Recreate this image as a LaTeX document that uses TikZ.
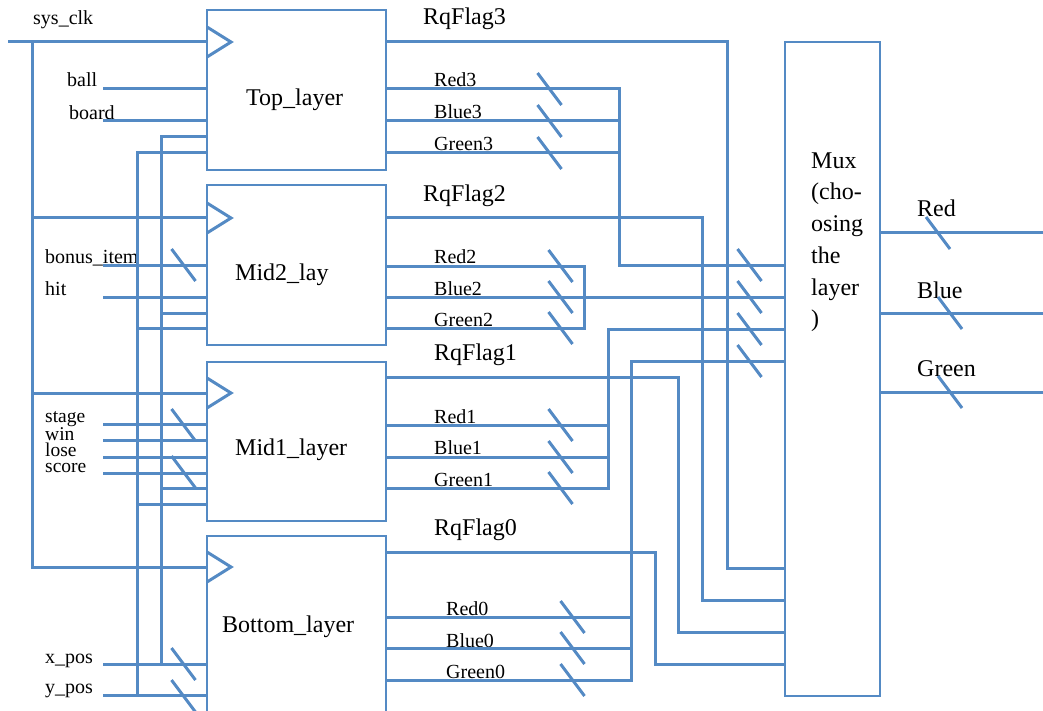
\documentclass[tikz,border=0pt]{standalone}
\usepackage{fontspec}
\setmainfont{Liberation Serif}
\definecolor{wireblue}{RGB}{84,138,196}
\tikzset{
  wire/.style={draw=wireblue, line width=3pt},
  boxframe/.style={draw=wireblue, line width=1.3pt, fill=white, anchor=north west, inner sep=0pt},
  sml/.style={anchor=base west, inner sep=0pt, font=\fontsize{20}{24}\selectfont},
  big/.style={anchor=base west, inner sep=0pt, font=\fontsize{24}{30}\selectfont},
}
\newcommand\busmark[2]{\draw[wire] ({#1-12},{#2-16}) -- ({#1+12},{#2+16});}
\begin{document}
\begin{tikzpicture}[x=1pt,y=-1pt]
\useasboundingbox (0,0) rectangle (1043,711);
% boxes
\node[boxframe, minimum width=178pt, minimum height=159pt] (top) at (207,10) {};
\node[boxframe, minimum width=178pt, minimum height=159pt] (mid2) at (207,185) {};
\node[boxframe, minimum width=178pt, minimum height=158pt] (mid1) at (207,362) {};
\node[boxframe, minimum width=178pt, minimum height=180pt] (bot) at (207,536) {};
\node[boxframe, minimum width=94pt, minimum height=653pt] (mux) at (785,42) {};
% box labels
\node[big] (ltop) at (246,106) {Top\_layer};
\node[big] (lmid2) at (235,280) {Mid2\_lay};
\node[big] (lmid1) at (235,455) {Mid1\_layer};
\node[big] (lbot) at (222,632) {Bottom\_layer};
\node[big] (m1) at (811,169) {Mux};
\node[big] (m2) at (811,200) {(cho-};
\node[big] (m3) at (811,232) {osing};
\node[big] (m4) at (811,263) {the};
\node[big] (m5) at (811,295) {layer};
\node[big] (m6) at (811,326) {)};
% clock triangles
\foreach \yy in {42,218,393,567} {
  \draw[wire] (207,{\yy-15}) -- (231,\yy) -- (207,{\yy+15});
}
% clock distribution
\coordinate (clkin) at (8,42);
\coordinate (clkv) at (32,42);
\draw[wire] (clkin) -- (207,42);
\draw[wire] (clkv) -- (32,567) -- (207,567);
\draw[wire] (32,218) -- (207,218);
\draw[wire] (32,393) -- (207,393);
% left inputs
\node[sml] (lclk) at (33,25) {sys\_clk};
\node[sml] (lball) at (67,87) {ball};
\node[sml] (lboard) at (69,120) {board};
\node[sml] (lbonus) at (45,263) {bonus\_item};
\node[sml] (lhit) at (45,295) {hit};
\node[anchor=north west, inner sep=0pt, align=left, font=\fontsize{19.5}{16}\selectfont] (lstage) at (45,411) {stage\\win\\lose\\score};
\node[sml] (lxpos) at (45,663) {x\_pos};
\node[sml] (lypos) at (45,693) {y\_pos};
\foreach \yy in {89,121,265,297,424,440,457,473,664,695} {
  \draw[wire] (103,\yy) -- (207,\yy);
}
% feedback buses
\draw[wire] (207,137) -- (161,137) -- (161,664);
\draw[wire] (207,153) -- (137,153) -- (137,695);
\draw[wire] (161,313) -- (207,313);
\draw[wire] (137,328) -- (207,328);
\draw[wire] (161,488) -- (207,488);
\draw[wire] (137,504) -- (207,504);
\busmark{183.5}{265}
\busmark{183.5}{425}
\busmark{183.5}{472}
\busmark{183.5}{664}
\busmark{183.5}{696}
% RqFlags
\node[big] (lrq3) at (423,25) {RqFlag3};
\node[big] (lrq2) at (423,202) {RqFlag2};
\node[big] (lrq1) at (434,360) {RqFlag1};
\node[big] (lrq0) at (434,535) {RqFlag0};
\draw[wire] (385,42) -- (727,42) -- (727,568) -- (785,568);
\draw[wire] (385,218) -- (702,218) -- (702,600) -- (785,600);
\draw[wire] (385,377) -- (678,377) -- (678,632) -- (785,632);
\draw[wire] (385,552) -- (655,552) -- (655,664) -- (785,664);
% layer 3 colours
\node[sml] (lr3) at (434,87) {Red3};
\node[sml] (lb3) at (434,119) {Blue3};
\node[sml] (lg3) at (434,151) {Green3};
\draw[wire] (385,89) -- (619,89) -- (619,265) -- (785,265);
\draw[wire] (385,121) -- (619,121);
\draw[wire] (385,153) -- (619,153);
\busmark{549.5}{89}
\busmark{549.5}{121}
\busmark{549.5}{153}
% layer 2 colours
\node[sml] (lr2) at (434,263) {Red2};
\node[sml] (lb2) at (434,295) {Blue2};
\node[sml] (lg2) at (434,326) {Green2};
\draw[wire] (385,266) -- (584,266) -- (584,328) -- (385,328);
\draw[wire] (385,297) -- (785,297);
\busmark{560.5}{266}
\busmark{560.5}{297}
\busmark{560.5}{328}
% layer 1 colours
\node[sml] (lr1) at (434,423) {Red1};
\node[sml] (lb1) at (434,454) {Blue1};
\node[sml] (lg1) at (434,486) {Green1};
\draw[wire] (385,425) -- (608,425);
\draw[wire] (385,457) -- (608,457);
\draw[wire] (385,488) -- (608,488) -- (608,329) -- (785,329);
\busmark{560.5}{425}
\busmark{560.5}{457}
\busmark{560.5}{488}
% layer 0 colours
\node[sml] (lr0) at (446,615) {Red0};
\node[sml] (lb0) at (446,647) {Blue0};
\node[sml] (lg0) at (446,678) {Green0};
\draw[wire] (385,617) -- (631,617);
\draw[wire] (385,648) -- (631,648);
\draw[wire] (385,680) -- (631,680) -- (631,361) -- (785,361);
\busmark{572.5}{617}
\busmark{572.5}{648}
\busmark{572.5}{680}
% mux inputs marks
\busmark{749.5}{265}
\busmark{749.5}{297}
\busmark{749.5}{329}
\busmark{749.5}{361}
% outputs
\coordinate (ored) at (1043,233);
\coordinate (oblue) at (1043,313);
\coordinate (ogreen) at (1043,392);
\draw[wire] (mux.east |- ored) -- (ored);
\draw[wire] (mux.east |- oblue) -- (oblue);
\draw[wire] (mux.east |- ogreen) -- (ogreen);
\node[big] (lred) at (917,217) {Red};
\node[big] (lblue) at (917,298) {Blue};
\node[big] (lgreen) at (917,376) {Green};
\busmark{938}{233}
\busmark{950}{313}
\busmark{950}{392}
% redraw box outlines on top
\draw[draw=wireblue, line width=1.3pt] (top.north west) rectangle (top.south east);
\draw[draw=wireblue, line width=1.3pt] (mid2.north west) rectangle (mid2.south east);
\draw[draw=wireblue, line width=1.3pt] (mid1.north west) rectangle (mid1.south east);
\draw[draw=wireblue, line width=1.3pt] (bot.north west) rectangle (bot.south east);
\draw[draw=wireblue, line width=1.3pt] (mux.north west) rectangle (mux.south east);
\end{tikzpicture}
\end{document}
